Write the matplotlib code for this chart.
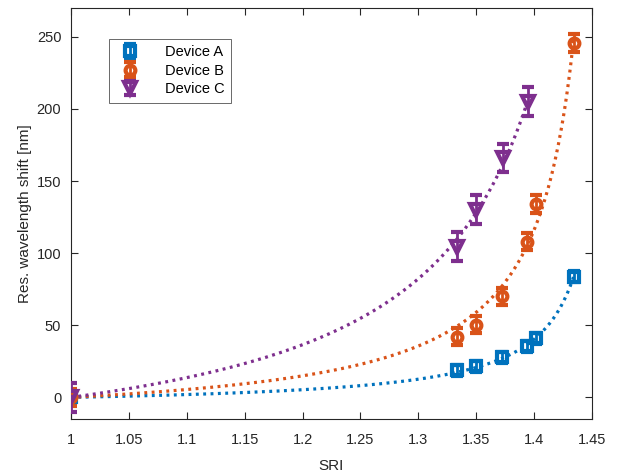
import numpy as np
import matplotlib
matplotlib.use("Agg")
import matplotlib.pyplot as plt

plt.rcParams['font.family'] = ['Liberation Sans', 'DejaVu Sans']

# Measured resonance shifts versus surrounding refractive index
sri_a = [1.000, 1.333, 1.350, 1.372, 1.394, 1.402, 1.434]
shift_a = [0.0, 18.7, 21.5, 27.7, 35.3, 40.9, 83.8]
err_a = [4, 4, 4, 4, 4, 4, 4]

sri_b = [1.000, 1.333, 1.350, 1.372, 1.394, 1.402, 1.434]
shift_b = [0.0, 42.0, 50.5, 70.0, 108.0, 134.0, 245.8]
err_b = [6, 6, 6, 6, 6, 6, 6]

sri_c = [1.000, 1.333, 1.350, 1.373, 1.395]
shift_c = [0.0, 104.6, 130.0, 166.0, 205.0]
err_c = [10, 10, 10, 10, 10]

labels = ['Device A', 'Device B', 'Device C']
colors = ['#0072BD', '#D95319', '#7E2F8E']
markers = ['s', 'o', 'v']
msizes = [6.5, 7.0, 9.0]
capsizes = [4.0, 4.0, 4.5]

xticks = [1, 1.05, 1.1, 1.15, 1.2, 1.25, 1.3, 1.35, 1.4, 1.45]
yticks = [0, 50, 100, 150, 200, 250]


def fit_curve(x, y):
    """Least-squares fit of y = A (x - 1) / (B - x), scanning the pole B."""
    x = np.asarray(x, float)
    y = np.asarray(y, float)
    best = None
    for b in np.linspace(x.max() + 0.002, 2.0, 4000):
        g = (x - 1) / (b - x)
        a = np.dot(g, y) / np.dot(g, g)
        r = np.sum((y - a * g) ** 2)
        if best is None or r < best[0]:
            best = (r, a, b)
    _, a, b = best
    xs = np.linspace(1.0, x.max(), 300)
    return xs, a * (xs - 1) / (b - xs)


fig = plt.figure(figsize=(6.18, 4.72), dpi=100)
ax = fig.add_axes([0.1149, 0.1123, 0.958 - 0.1149, 0.983 - 0.1123])

series = [(sri_a, shift_a, err_a), (sri_b, shift_b, err_b), (sri_c, shift_c, err_c)]
for (x, y, e), col in zip(series, colors):
    xs, ys = fit_curve(x, y)
    ax.plot(xs, ys, linestyle=(0, (0.9, 1.4)), color=col, lw=2.3, zorder=2)

handles = []
for (x, y, e), lab, col, mk, ms, cs in zip(series, labels, colors, markers,
                                           msizes, capsizes):
    h = ax.errorbar(x, y, yerr=e, fmt=mk, color=col, ms=ms, mfc='none',
                    mec=col, mew=3.0, elinewidth=2.0, capsize=cs,
                    capthick=2.4, label=lab, zorder=3)
    handles.append(h)

ax.set_xlim(1, 1.45)
ax.set_ylim(-15, 270)
ax.set_xticks(xticks)
ax.set_xticklabels([f'{t:g}' for t in xticks])
ax.set_yticks(yticks)

edge = '#262626'
for s in ax.spines.values():
    s.set_color(edge)
    s.set_linewidth(0.8)
ax.tick_params(direction='in', length=5, width=0.8, colors=edge, labelsize=10.5,
               top=True, right=True)
ax.tick_params(axis='x', pad=10)
ax.tick_params(axis='y', pad=7)
ax.set_xlabel('SRI', fontsize=11, color=edge, labelpad=9)
ax.set_ylabel('Res. wavelength shift [nm]', fontsize=11, color=edge, labelpad=3)

leg = ax.legend(handles=handles, labels=labels, loc='upper left',
                bbox_to_anchor=(0.073, 0.925), fontsize=10.5, frameon=True,
                fancybox=False, edgecolor=edge, handlelength=2.0,
                handletextpad=1.4, borderpad=0.45, labelspacing=0.3,
                borderaxespad=0)
leg.get_frame().set_linewidth(0.6)

fig.savefig('out.png', dpi=100)
